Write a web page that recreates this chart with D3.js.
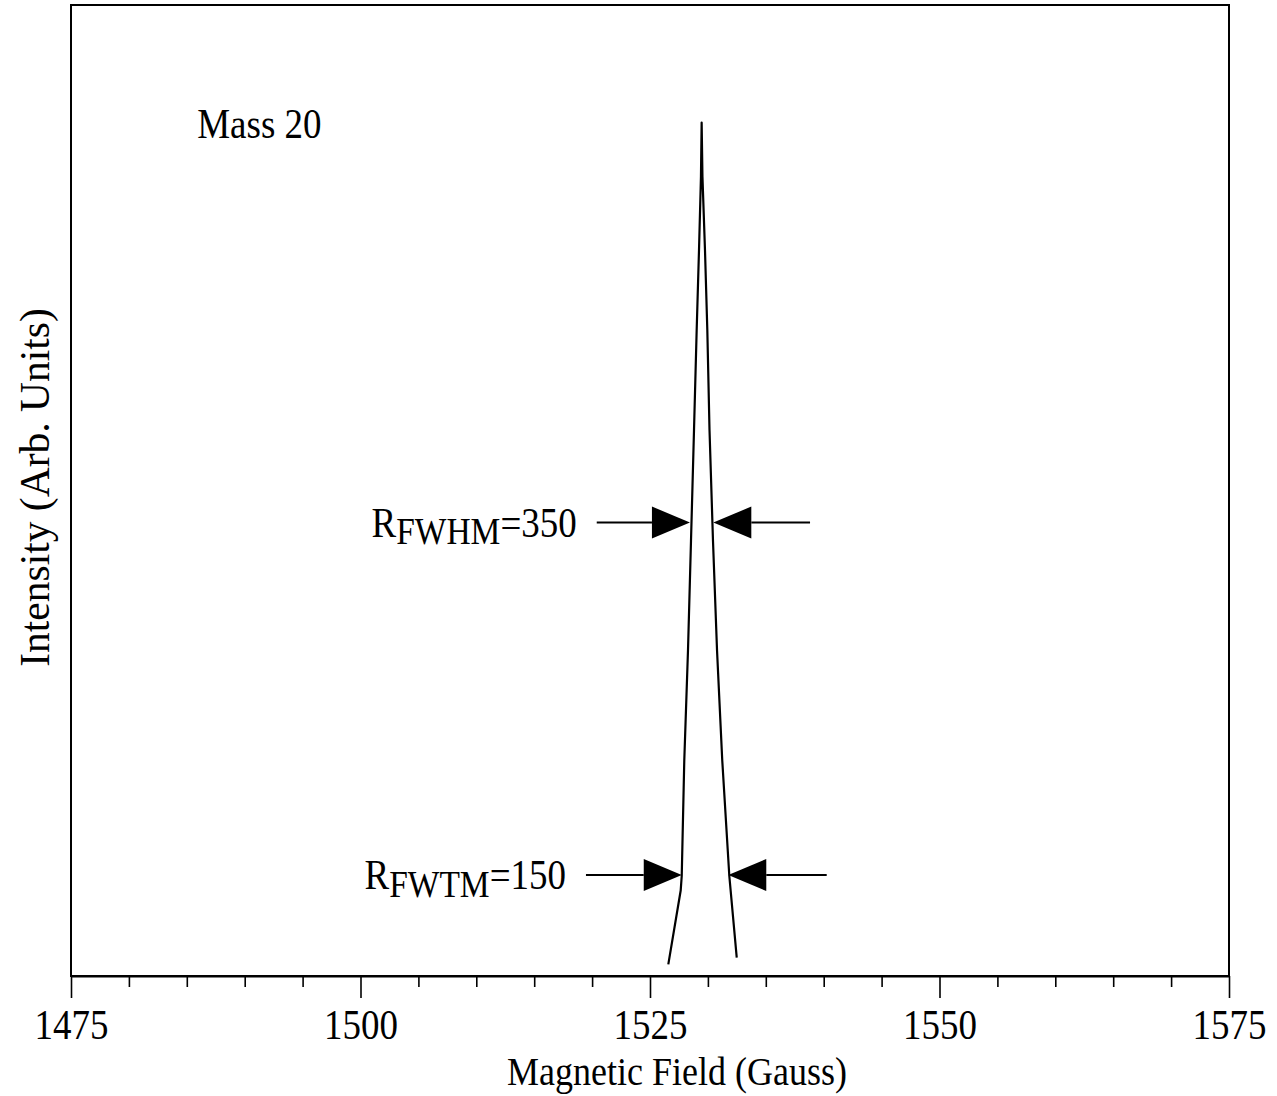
<!DOCTYPE html>
<html>
<head>
<meta charset="utf-8">
<script src="https://cdn.jsdelivr.net/npm/d3@7"></script>
<style>
  body { margin: 0; background: #fff; }
  text { font-family: "Liberation Serif", "Times New Roman", serif; fill: #000; }
</style>
</head>
<body>
<div class="chart"></div>
<script>
// peak trace, Mass 20 (field in gauss, intensity arb. units)
const fieldGauss = [1526.58, 1527.65, 1527.74, 1527.96, 1528.28, 1528.54, 1528.80, 1529.03, 1529.23, 1529.40, 1529.46,
                    1529.53, 1529.75, 1529.95, 1530.14, 1530.44, 1530.79, 1531.24, 1531.85, 1532.49];
const intensity  = [0.012, 0.088, 0.103, 0.222, 0.335, 0.448, 0.562, 0.665, 0.747, 0.823, 0.879,
                    0.823, 0.747, 0.665, 0.562, 0.448, 0.335, 0.222, 0.103, 0.019];

const majorTicks = [1475, 1500, 1525, 1550, 1575];
const minorTicks = [1480, 1485, 1490, 1495, 1505, 1510, 1515, 1520, 1530, 1535, 1540, 1545,
                    1555, 1560, 1565, 1570];

// resolution markers: level, left tail/tip, right tip/tail
const markerNames  = ["FWHM", "FWTM"];
const markerValues = ["350", "150"];
const markerLevel  = [0.467, 0.104];
const markerLeft   = [[1520.40, 1528.45], [1519.47, 1527.74]];
const markerRight  = [[1530.47, 1538.82], [1531.76, 1540.26]];

const width = 1277, height = 1096;
const margin = { top: 5, right: 48, bottom: 120, left: 71 };
const stretch = 1.12; // the scanned text is a little taller than wide

const svg = d3.select(".chart").append("svg")
  .attr("width", width)
  .attr("height", height);

const x = d3.scaleLinear().domain([1475, 1575]).range([margin.left, width - margin.right]);
const y = d3.scaleLinear().domain([0, 1]).range([height - margin.bottom, margin.top]);

// frame
svg.append("rect")
  .attr("x", x(1475)).attr("y", y(1))
  .attr("width", x(1575) - x(1475)).attr("height", y(0) - y(1))
  .attr("fill", "none").attr("stroke", "#000").attr("stroke-width", 2);

// bottom axis, major + minor ticks
const axisMajor = d3.axisBottom(x).tickValues(majorTicks).tickSize(22).tickSizeOuter(0).tickPadding(0)
  .tickFormat(d3.format("d"));
const gx = svg.append("g").attr("transform", `translate(0,${y(0)})`).call(axisMajor);
gx.select(".domain").attr("stroke-width", 2);
gx.selectAll(".tick line").attr("stroke-width", 1.6);
gx.selectAll(".tick text")
  .attr("font-size", 37).attr("font-family", "Liberation Serif")
  .attr("y", null).attr("dy", null)
  .attr("transform", `translate(0,63) scale(1,${stretch})`);

const axisMinor = d3.axisBottom(x).tickValues(minorTicks).tickSize(11).tickFormat("");
const gm = svg.append("g").attr("transform", `translate(0,${y(0)})`).call(axisMinor);
gm.select(".domain").remove();
gm.selectAll(".tick line").attr("stroke-width", 1.6);

function label(px, py, size) {
  return svg.append("text")
    .attr("transform", `translate(${px},${py}) scale(1,${stretch})`)
    .attr("font-size", size);
}

// axis titles
label((x(1475) + x(1575)) / 2 + 27, 1085, 36)
  .attr("text-anchor", "middle")
  .text("Magnetic Field (Gauss)");

svg.append("text")
  .attr("transform", `translate(49,${(y(0) + y(1)) / 2 - 3}) rotate(-90)`)
  .attr("text-anchor", "middle").attr("font-size", 41.5)
  .text("Intensity (Arb. Units)");

// peak
const pts = fieldGauss.map((g, i) => [g, intensity[i]]);
svg.append("path")
  .datum(pts)
  .attr("fill", "none").attr("stroke", "#000").attr("stroke-width", 2.2)
  .attr("stroke-linejoin", "round")
  .attr("d", d3.line().x(d => x(d[0])).y(d => y(d[1])));

label(x(1485.9), y(0.866) + 3, 37).text("Mass 20");

// arrows pointing in at the peak
function arrow(tail, tip, yy) {
  const dir = Math.sign(tip - tail);
  const tx = x(tip), len = 38, half = 16;
  svg.append("line")
    .attr("x1", x(tail)).attr("x2", tx - dir * len)
    .attr("y1", yy).attr("y2", yy)
    .attr("stroke", "#000").attr("stroke-width", 2);
  svg.append("path")
    .attr("d", `M${tx},${yy}L${tx - dir * len},${yy - half}L${tx - dir * len},${yy + half}Z`)
    .attr("fill", "#000");
}

markerNames.forEach((name, i) => {
  const yy = y(markerLevel[i]);
  arrow(markerLeft[i][0], markerLeft[i][1], yy);
  arrow(markerRight[i][1], markerRight[i][0], yy);
  const t = label(x(markerLeft[i][0]) - 20, yy + 14, 37)
    .attr("text-anchor", "end");
  t.append("tspan").text("R");
  t.append("tspan").attr("font-size", 33.5).attr("dy", 7).text(name);
  t.append("tspan").attr("dy", -7).text("=" + markerValues[i]);
});
</script>
</body>
</html>
